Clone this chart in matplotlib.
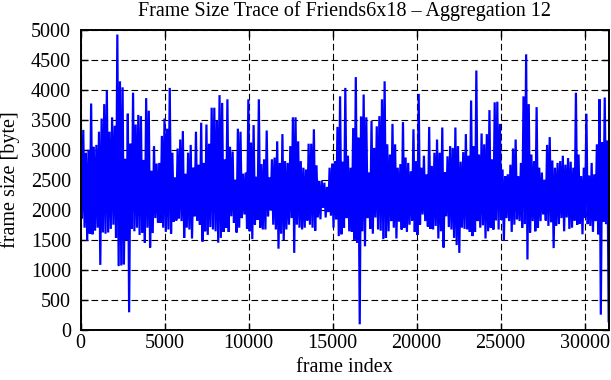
"""
plot.py
-------
Traccia della dimensione dei frame (Friends6x18, aggregazione 12),
stile gnuplot: font serif, griglia tratteggiata, tick interni su tutti i lati.
"""

import matplotlib
matplotlib.use("Agg")
import matplotlib.pyplot as plt
import numpy as np

# ---------------------------------------------------------------------------
# Dati: massimi e minimi locali della traccia
# (una coppia ogni ~156 frame)
# ---------------------------------------------------------------------------
frame_step = 156

peak_bytes = [
    3560, 3330, 2950, 3000, 3770, 3050, 3080, 3300, 3520, 3760,
    3990, 3300, 3540, 3400, 4920, 4140, 4040, 2850, 3600, 3100,
    3950, 3420, 3580, 3560, 2830, 3860, 3650, 2650, 3060, 2770,
    2780, 3230, 3520, 3350, 4030, 2950, 2540, 3020, 3170, 3310,
    2600, 2950, 3080, 2700, 3300, 2750, 3450, 2780, 3420, 3100,
    3700, 3700, 3480, 3910, 3780, 2840, 3840, 3050, 2970,
    2500, 3350, 3300, 2600, 2620, 3840, 3120, 3410, 2550, 3840,
    2760, 2840, 3320, 2540, 2840, 2870, 3140, 2780, 3260, 2810,
    2780, 3060, 3540, 3540, 3140, 2810, 2700, 2670, 3100,
    3100, 3340, 2740, 2480, 2480, 2450, 2380, 2700, 2770, 2810,
    3380, 3890, 2800, 4030, 2900, 2700, 3360, 4210, 3200, 3550,
    3920, 3540, 2620, 3480, 3030, 3390, 3560, 3840, 4140,
    3090, 2920, 3430, 3090, 2700, 2760, 3460, 2870, 2780, 2640,
    3340, 2810, 3930, 2700, 2900, 2590, 3380, 2730, 2950, 3170,
    2950, 3370, 2620, 2890, 3060, 3030, 3370, 3060, 2800,
    2960, 3260, 2900, 3820, 3060, 4320, 2920, 3270, 3090, 3260,
    3660, 2840, 3790, 3800, 3430, 2670, 2560, 2590, 2750, 3020,
    3170, 2560, 2780, 3890, 4590, 3760, 2920, 2810, 3710,
    2700, 2620, 2500, 3080, 3210, 2820, 2700, 2780, 2810, 2900,
    2750, 2860, 2800, 2700, 3950, 2920, 2560, 2700, 3600, 2570,
    2780, 2590, 3090, 3840, 3120, 3870, 3150,
]

trough_bytes = [
    1850, 1700, 1480, 1600, 1590, 1650, 1700, 1080, 1620, 1600,
    1620, 1680, 1750, 1530, 1060, 1070, 1090, 1500, 290, 1680,
    1640, 1700, 1580, 1620, 1450, 1700, 1370, 1610, 1860, 1780,
    1780, 1700, 1630, 1670, 1600, 1800, 1820, 1850, 1810, 1530,
    1700, 1670, 1520, 1890, 1820, 1750, 1470, 1640, 1580, 1710,
    1670, 1640, 1450, 1530, 1630, 1700, 1630, 1890, 1780,
    1620, 1700, 1860, 1920, 1680, 1640, 1510, 1750, 1830, 1700,
    1670, 1670, 1890, 1990, 1750, 1670, 1350, 1600, 1490, 1670,
    1750, 1860, 1280, 1750, 1700, 1670, 1700, 1820, 1750,
    1700, 1650, 1870, 1840, 2030, 1870, 1960, 1900, 1700, 1840,
    1560, 1590, 1700, 1860, 1640, 1630, 1500, 1450, 90, 1640,
    1390, 1860, 1680, 1600, 1870, 1670, 1650, 1510, 1530,
    1640, 1810, 1700, 1520, 1800, 1670, 1700, 1630, 1750, 1820,
    1630, 1580, 1750, 1920, 1810, 1720, 1680, 1670, 1730, 1520,
    1640, 1370, 1890, 1710, 1670, 1530, 1410, 1280, 1700,
    1680, 1670, 1630, 1560, 1630, 1810, 1700, 1740, 1520, 1640,
    1700, 1670, 1820, 1670, 1830, 1480, 1860, 1810, 1630, 1750,
    1840, 1810, 1700, 1760, 1170, 1620, 1810, 1640, 1700,
    1810, 1920, 1820, 1730, 1790, 1360, 1730, 1760, 1860, 1640,
    1870, 1680, 1700, 1820, 1750, 1770, 1590, 1870, 1760, 1730,
    1630, 1810, 1590, 250, 1800, 1760, 140,
]

title = "Frame Size Trace of Friends6x18 – Aggregation 12"
x_label = "frame index"
y_label = "frame size [byte]"
x_ticks = [0, 5000, 10000, 15000, 20000, 25000, 30000]
y_ticks = [0, 500, 1000, 1500, 2000, 2500, 3000, 3500, 4000, 4500, 5000]

# ---------------------------------------------------------------------------
# Costruzione della traccia: massimo e minimo alternati
# ---------------------------------------------------------------------------
n = len(peak_bytes)
idx = np.arange(n) * frame_step
frames = np.empty(2 * n)
frames[0::2] = idx
frames[1::2] = idx + frame_step / 2
sizes = np.empty(2 * n)
sizes[0::2] = peak_bytes
sizes[1::2] = trough_bytes

FS = 14.5
plt.rcParams["font.family"] = ["Liberation Serif", "DejaVu Serif"]
plt.rcParams["font.size"] = FS

fig = plt.figure(figsize=(6.11, 3.80), dpi=100)
ax = fig.add_axes([0.132, 0.1324, 0.8642, 0.7894])

ax.plot(frames, sizes, color="#0000ff", linewidth=1.6, solid_joinstyle="miter")

ax.set_xlim(0, frames[-1])
ax.set_ylim(0, 5000)
ax.set_xticks(x_ticks)
ax.set_yticks(y_ticks)

ax.grid(True, color="black", linestyle=(0, (6, 3)), linewidth=0.8)
ax.set_axisbelow(True)
ax.tick_params(direction="in", top=True, right=True, length=5, width=1,
               labelsize=FS, pad=3)
ax.tick_params(axis="y", pad=7)
for sp in ax.spines.values():
    sp.set_linewidth(1.4)

ax.set_title(title, fontsize=FS, pad=10)
ax.set_xlabel(x_label, fontsize=FS, labelpad=4)
ax.set_ylabel(y_label, fontsize=FS, labelpad=8)

fig.savefig("out.png", dpi=100)
plt.close(fig)
